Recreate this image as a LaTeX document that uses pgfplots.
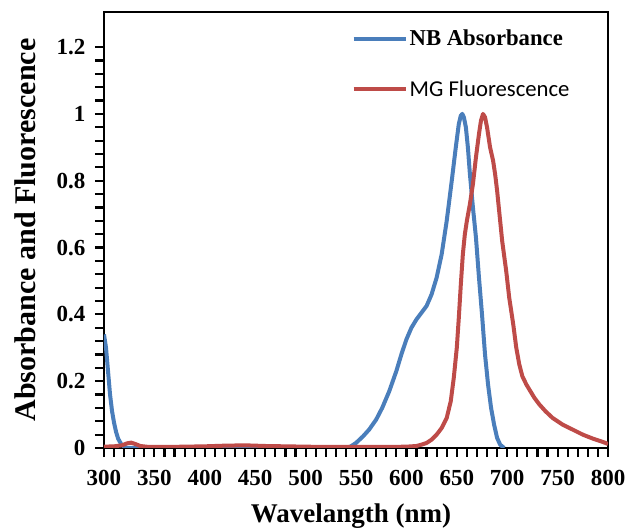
\documentclass[border=0pt]{standalone}
\usepackage{pgfplots}
\pgfplotsset{compat=1.18}
\usepackage{fontspec}
\setmainfont{Liberation Serif}
\newfontfamily\carlito{Carlito}

\definecolor{nbblue}{RGB}{74,126,187}
\definecolor{mgred}{RGB}{190,75,72}

\begin{document}
\begin{tikzpicture}
\begin{axis}[
    scale only axis,
    width=504pt, height=436pt,
    xmin=300, xmax=800, ymin=0, ymax=1.305,
    xtick={300,350,...,800},
    ytick={0,0.2,0.4,0.6,0.8,1,1.2},
    minor x tick num=4, minor y tick num=4,
    xtick pos=bottom, ytick pos=left,
    tick align=outside,
    axis line style={line width=2.6pt},
    tick style={black, line width=2.2pt},
    major tick length=9pt, minor tick length=9pt,
    ticklabel style={font=\bfseries\fontsize{23}{23}\selectfont},
    xticklabel style={yshift=-10pt},
    yticklabel style={xshift=-6pt},
    /pgf/number format/assume math mode=true,
    xlabel={Wavelangth (nm)},
    ylabel={Absorbance and Fluorescence},
    xlabel style={font=\bfseries\fontsize{27}{27}\selectfont,
        at={(axis description cs:0.49,-0.156)}, anchor=center},
    ylabel style={font=\bfseries\fontsize{30}{30}\selectfont,
        at={(axis description cs:-0.157,0.5)}, anchor=center},
    legend style={draw=none, fill=none, at={(axis description cs:0.487,0.968)},
        anchor=north west, row sep=29pt, inner sep=2pt,
        font=\fontsize{22.7}{22.7}\selectfont,
        /tikz/every even column/.append style={column sep=0pt}},
    legend cell align=left,
    legend image code/.code={\draw[#1] (0pt,0pt) -- (52pt,0pt);},
]

% NB absorbance
\addplot[color=nbblue, line width=4pt, line join=round] coordinates {
    (300,0.34) (302,0.30) (304,0.23) (306,0.16) (308,0.11) (310,0.075)
    (312,0.048) (314,0.028) (317,0.012) (320,0.003) (323,0) (400,0) (500,0)
    (540,0) (545,0.005) (550,0.015) (557,0.035) (563,0.055) (570,0.085)
    (576,0.12) (583,0.17) (590,0.23) (595,0.28) (600,0.325) (605,0.36)
    (610,0.385) (615,0.405) (620,0.425) (625,0.46) (630,0.51) (635,0.58)
    (640,0.68) (645,0.80) (649,0.90) (652,0.97) (654,0.995) (655.5,1.0)
    (657,0.99) (659,0.96) (661,0.90) (663,0.82) (666,0.72) (669,0.63)
    (672,0.51) (675,0.40) (678,0.28) (681,0.19) (684,0.12) (687,0.07)
    (690,0.03) (693,0.01) (697,0)
};
\addlegendentry{\bfseries NB Absorbance}

% MG fluorescence
\addplot[color=mgred, line width=4pt, line join=round] coordinates {
    (300,0.004) (310,0.005) (318,0.008) (323,0.014) (327,0.016) (331,0.012)
    (336,0.006) (345,0.003) (360,0.003) (380,0.004) (400,0.005) (420,0.007)
    (440,0.008) (460,0.006) (480,0.005) (500,0.004) (520,0.003) (540,0.003)
    (560,0.003) (580,0.003) (600,0.004) (610,0.006) (615,0.01) (620,0.015)
    (625,0.025) (630,0.04) (635,0.06) (640,0.09) (644,0.14) (647,0.21)
    (650,0.30) (652,0.39) (654,0.49) (656,0.58) (658,0.64) (660,0.68)
    (663,0.73) (666,0.79) (669,0.87) (672,0.94) (674,0.98) (676,1.0)
    (678,0.99) (680,0.96) (683,0.90) (686,0.86) (688,0.82) (690,0.77)
    (692,0.71) (695,0.62) (699,0.53) (702,0.45) (706,0.37) (709,0.30)
    (712,0.25) (715,0.215) (719,0.19) (723,0.17) (727,0.15) (732,0.13)
    (738,0.11) (745,0.09) (755,0.07) (765,0.055) (775,0.04) (785,0.028)
    (795,0.018) (800,0.012)
};
\addlegendentry{\carlito MG Fluorescence}

\end{axis}
\path (current axis.south west) ++(-104pt,-82pt) rectangle ++(629pt,530pt);
\end{tikzpicture}
\end{document}
